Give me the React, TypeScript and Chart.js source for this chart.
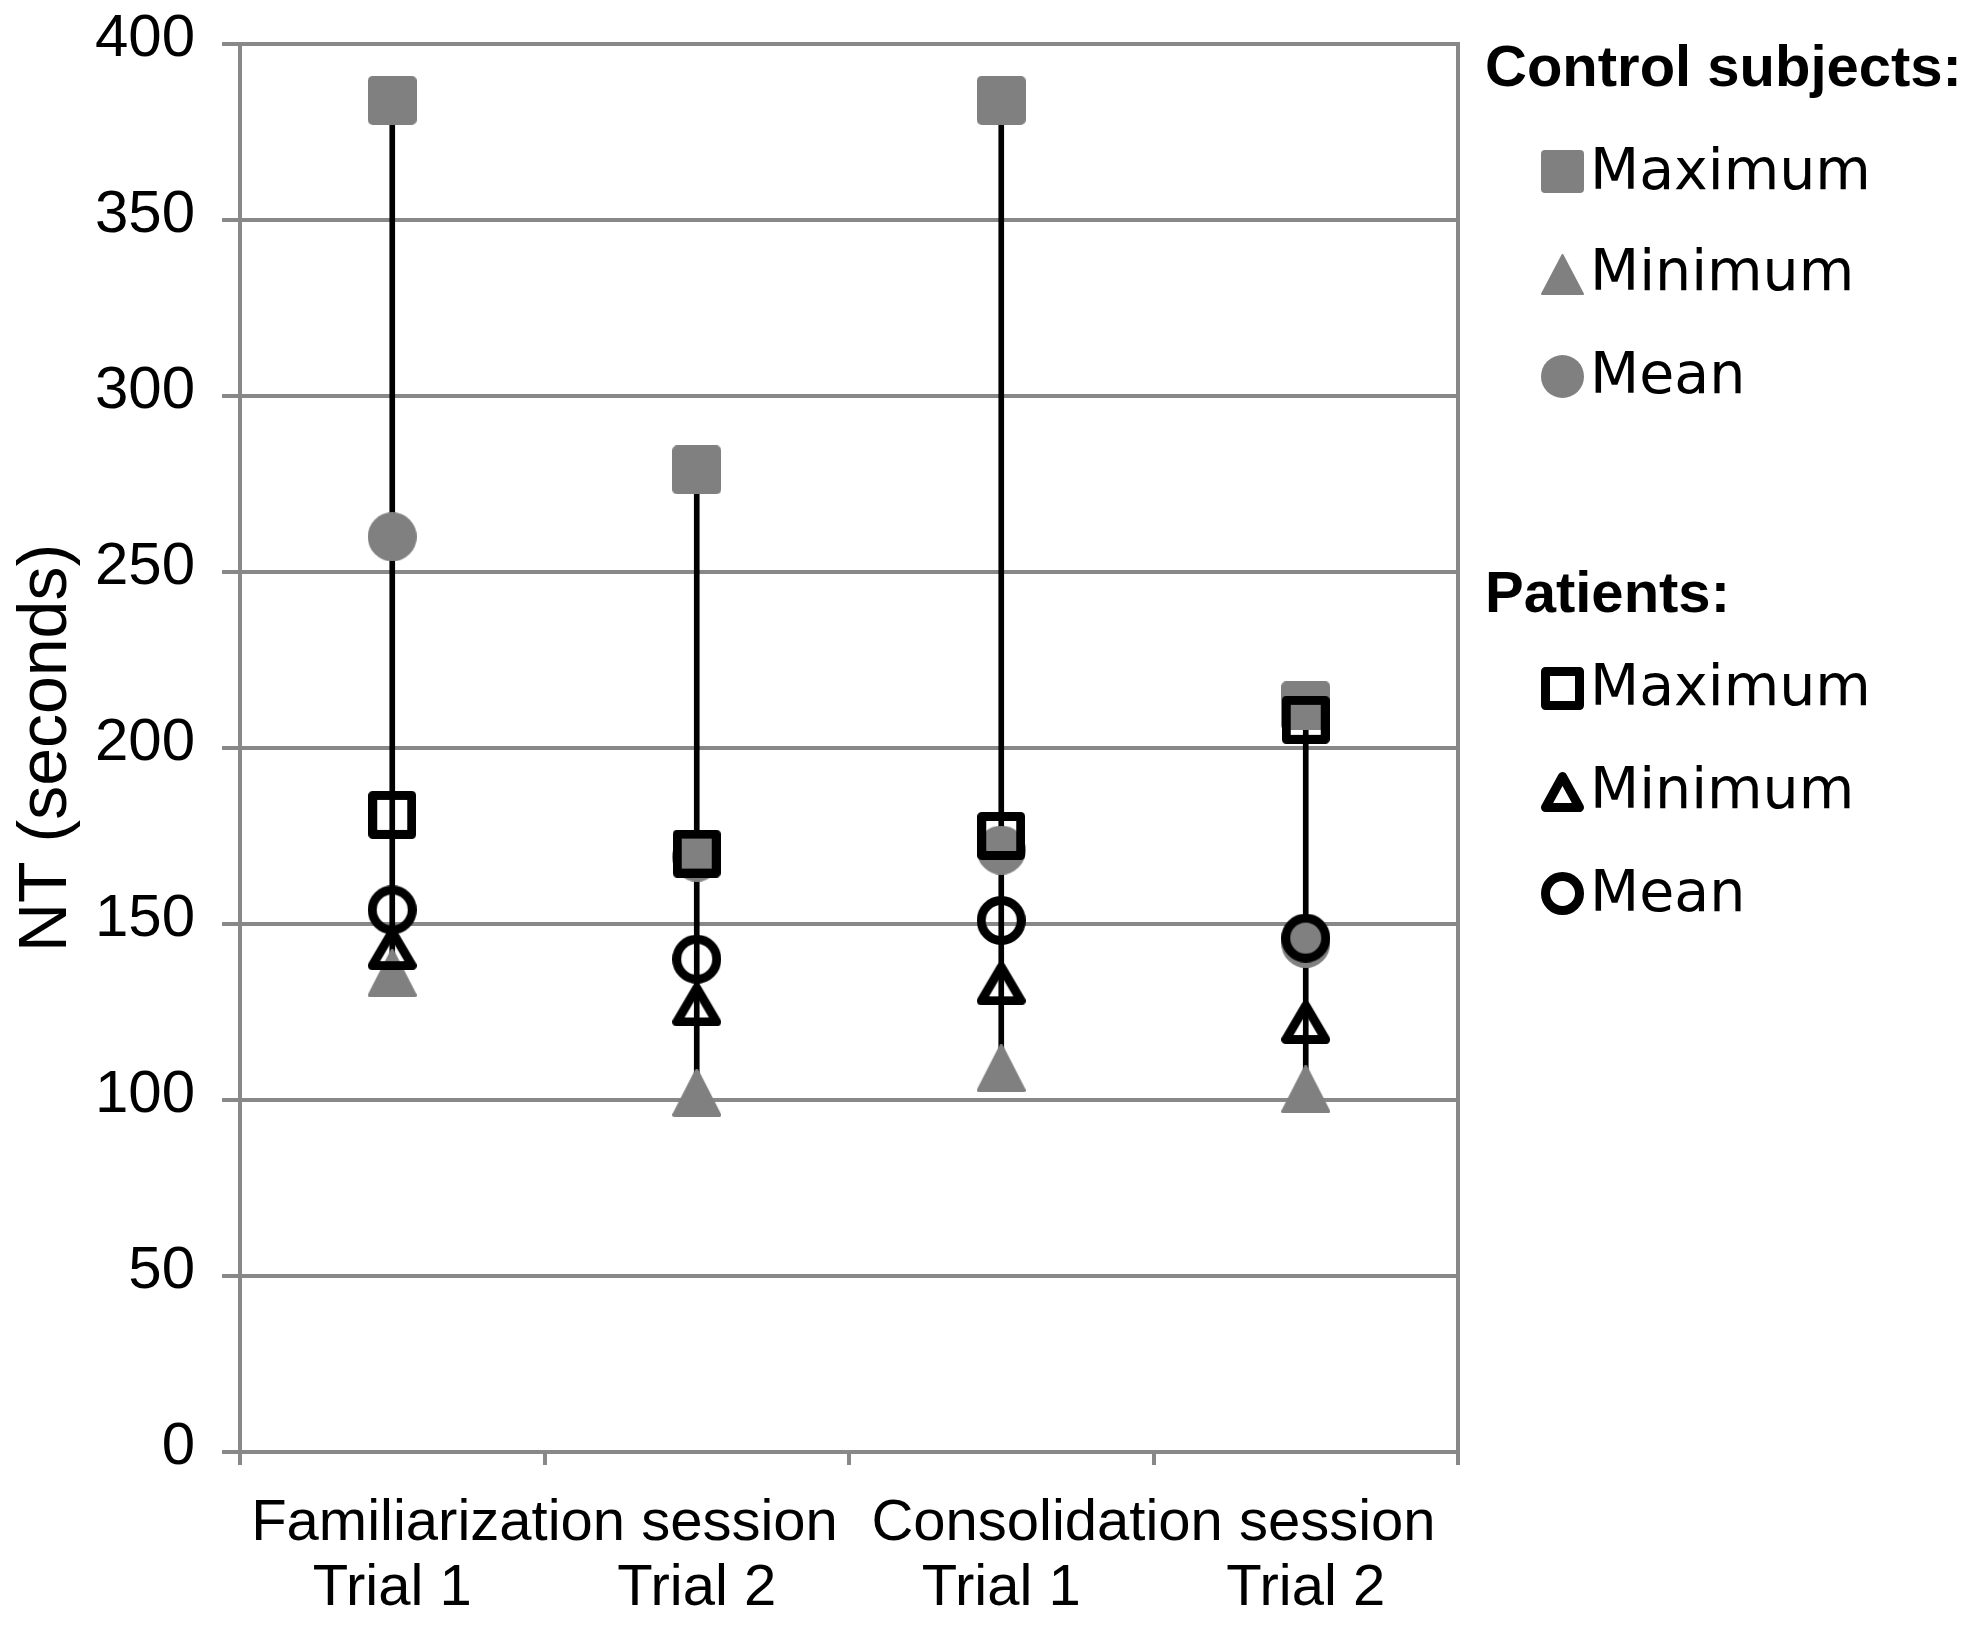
import React, { useEffect, useRef } from 'react';
import { Chart, registerables } from 'chart.js';

Chart.register(...registerables);

// ---- data ----
const categories = ['Familiarization T1', 'Familiarization T2', 'Consolidation T1', 'Consolidation T2'];
const sessionLabels = ['Familiarization session', 'Consolidation session'];
const trialLabels = ['Trial 1', 'Trial 2', 'Trial 1', 'Trial 2'];

const controlMax = [384, 279, 384, 212];
const controlMin = [136, 102, 109, 103];
const controlMean = [260, 169, 171, 144.5];

const patientMax = [181, 170, 175, 208];
const patientMin = [143, 127, 133, 122];
const patientMean = [154, 140, 151, 146];

const yMin = 0;
const yMax = 400;
const yStep = 50;

const legendGroups = ['Control subjects:', 'Patients:'];
const legendItems = ['Maximum', 'Minimum', 'Mean'];

const GRAY = '#808080';
const AXIS = '#888888';

type Shape = 'square' | 'triangle' | 'circle';

function makeMarker(shape: Shape, filled: boolean): HTMLCanvasElement {
  const c = document.createElement('canvas');
  const w = filled ? 49 : shape === 'square' ? 48 : 49;
  const h = filled ? (shape === 'triangle' ? 48 : 49) : shape === 'triangle' ? 43 : shape === 'square' ? 48 : 49;
  c.width = w;
  c.height = h;
  const ctx = c.getContext('2d')!;
  ctx.lineJoin = 'round';
  if (filled) {
    ctx.fillStyle = GRAY;
    ctx.strokeStyle = GRAY;
    if (shape === 'square') {
      ctx.beginPath();
      (ctx as any).roundRect(0, 0, w, h, 5);
      ctx.fill();
    } else if (shape === 'circle') {
      ctx.beginPath();
      ctx.arc(w / 2, h / 2, w / 2, 0, Math.PI * 2);
      ctx.fill();
    } else {
      ctx.lineWidth = 4;
      ctx.beginPath();
      ctx.moveTo(w / 2, 2);
      ctx.lineTo(w - 2, h - 2);
      ctx.lineTo(2, h - 2);
      ctx.closePath();
      ctx.fill();
      ctx.stroke();
    }
  } else {
    ctx.strokeStyle = '#000';
    ctx.lineWidth = 9;
    const s = 4.5;
    ctx.beginPath();
    if (shape === 'square') {
      ctx.rect(s, s, w - 2 * s, h - 2 * s);
    } else if (shape === 'circle') {
      ctx.arc(w / 2, h / 2, w / 2 - s, 0, Math.PI * 2);
    } else {
      ctx.moveTo(w / 2, s);
      ctx.lineTo(w - s, h - s);
      ctx.lineTo(s, h - s);
      ctx.closePath();
    }
    ctx.stroke();
  }
  return c;
}

function LegendMarker({ shape, filled }: { shape: Shape; filled: boolean }) {
  const size = 43;
  const sw = 9;
  const fill = filled ? GRAY : 'none';
  const stroke = filled ? 'none' : '#000';
  const i = filled ? 0 : sw / 2;
  let el: React.ReactNode;
  if (shape === 'square') {
    el = <rect x={i} y={i} width={size - 2 * i} height={size - 2 * i} rx={filled ? 4 : 0} fill={fill} stroke={stroke} strokeWidth={sw} strokeLinejoin="round" />;
  } else if (shape === 'circle') {
    el = <circle cx={size / 2} cy={size / 2} r={size / 2 - i} fill={fill} stroke={stroke} strokeWidth={sw} />;
  } else {
    const h = filled ? 41 : 40;
    const j = filled ? 1 : i;
    el = (
      <polygon
        points={`${size / 2},${j} ${size - j},${h - j} ${j},${h - j}`}
        fill={fill}
        stroke={filled ? GRAY : '#000'}
        strokeWidth={filled ? 2 : sw}
        strokeLinejoin="round"
      />
    );
  }
  return (
    <svg width={size} height={size} style={{ position: 'absolute', left: 0, top: 0, overflow: 'visible' }}>
      {el}
    </svg>
  );
}

export default function App() {
  const ref = useRef<HTMLCanvasElement>(null);

  useEffect(() => {
    const canvas = ref.current!;
    const mk = {
      cMax: makeMarker('square', true),
      cMin: makeMarker('triangle', true),
      cMean: makeMarker('circle', true),
      pMax: makeMarker('square', false),
      pMin: makeMarker('triangle', false),
      pMean: makeMarker('circle', false),
    };
    const pointDs = (label: string, data: number[], style: HTMLCanvasElement, order: number) => ({
      type: 'line' as const,
      label,
      data,
      showLine: false,
      pointStyle: style,
      pointRadius: 24,
      pointHoverRadius: 24,
      order,
      xAxisID: 'x',
      yAxisID: 'y',
    });
    const tickFont = { family: '"Liberation Sans", Arial, sans-serif', size: 58, lineHeight: 1 };

    const chart = new Chart(canvas, {
      type: 'line',
      data: {
        labels: categories,
        datasets: [
          {
            type: 'bar',
            label: 'Control range',
            data: controlMax.map((v, i) => [controlMin[i], v]),
            backgroundColor: '#000',
            borderWidth: 0,
            barThickness: 5,
            order: 3,
            xAxisID: 'x',
            yAxisID: 'y',
          } as any,
          pointDs('Control Maximum', controlMax, mk.cMax, 2),
          pointDs('Control Mean', controlMean, mk.cMean, 2),
          pointDs('Control Minimum', controlMin, mk.cMin, 2),
          pointDs('Patients Maximum', patientMax, mk.pMax, 1),
          pointDs('Patients Mean', patientMean, mk.pMean, 1),
          pointDs('Patients Minimum', patientMin, mk.pMin, 1),
        ],
      },
      options: {
        animation: false,
        responsive: false,
        devicePixelRatio: 1,
        events: [],
        layout: { padding: { top: 44, left: 0, right: 0, bottom: 8 } },
        plugins: { legend: { display: false }, tooltip: { enabled: false } },
        scales: {
          x: {
            type: 'category',
            position: 'bottom',
            offset: true,
            weight: 0,
            grid: {
              display: true,
              drawOnChartArea: false,
              drawTicks: true,
              tickLength: 13,
              color: AXIS,
              lineWidth: 4,
              offset: true,
            },
            border: { display: true, color: AXIS, width: 4 },
            ticks: { display: false },
            afterFit: (s: any) => {
              s.height = 13;
            },
          },
          x2: {
            type: 'category',
            labels: sessionLabels,
            position: 'bottom',
            offset: true,
            weight: 1,
            grid: { display: false, drawTicks: false },
            border: { display: false },
            ticks: { color: '#000', font: tickFont, padding: 30, autoSkip: false, maxRotation: 0, minRotation: 0 },
            afterFit: (s: any) => {
              s.height = 88;
            },
          },
          x3: {
            type: 'category',
            labels: trialLabels,
            position: 'bottom',
            offset: true,
            weight: 2,
            grid: { display: false, drawTicks: false },
            border: { display: false },
            ticks: { color: '#000', font: tickFont, padding: 7, autoSkip: false, maxRotation: 0, minRotation: 0 },
            afterFit: (s: any) => {
              s.height = 65;
            },
          },
          y: {
            type: 'linear',
            position: 'left',
            min: yMin,
            max: yMax,
            grid: { color: AXIS, lineWidth: 4, tickLength: 18, drawTicks: true },
            border: { display: true, color: AXIS, width: 4 },
            ticks: {
              stepSize: yStep,
              color: '#000',
              padding: 27,
              labelOffset: -5,
              font: { family: '"Liberation Sans Narrow", "Liberation Sans", Arial, sans-serif', size: 60 },
            },
            title: {
              display: true,
              text: 'NT (seconds)',
              color: '#000',
              font: { family: '"Liberation Sans", Arial, sans-serif', size: 68 },
              padding: { top: 6, bottom: 0 },
            },
            afterFit: (s: any) => {
              s.width = 240;
              s.paddingTop = 0;
              s.paddingBottom = 0;
            },
          },
          y2: {
            type: 'linear',
            position: 'right',
            grid: { display: false, drawTicks: false },
            ticks: { display: false },
            border: { display: true, color: AXIS, width: 4 },
            afterFit: (s: any) => {
              s.width = 514;
              s.paddingTop = 0;
              s.paddingBottom = 0;
            },
          },
        },
      } as any,
    });
    return () => chart.destroy();
  }, []);

  const headerStyle: React.CSSProperties = {
    position: 'absolute',
    left: 1485,
    fontFamily: '"Liberation Sans", Arial, sans-serif',
    fontWeight: 'bold',
    fontSize: 58,
    lineHeight: '58px',
    whiteSpace: 'nowrap',
    color: '#000',
  };
  const itemStyle: React.CSSProperties = {
    position: 'absolute',
    left: 1590,
    fontFamily: '"DejaVu Sans", sans-serif',
    fontSize: 57,
    lineHeight: '57px',
    whiteSpace: 'nowrap',
    color: '#000',
  };
  const shapes: Shape[] = ['square', 'triangle', 'circle'];
  const groupTop = [37, 563];
  const itemTops = [
    [141, 242, 345],
    [657, 760, 863],
  ];
  const markerTops = [
    [150, 254, 355],
    [667, 772, 872],
  ];

  return (
    <div style={{ position: 'absolute', left: 0, top: 0, width: 1972, height: 1626, background: '#fff', overflow: 'hidden' }}>
      <canvas ref={ref} width={1972} height={1626} style={{ position: 'absolute', left: 0, top: 0, width: 1972, height: 1626 }} />
      {legendGroups.map((g, gi) => (
        <React.Fragment key={g}>
          <div style={{ ...headerStyle, top: groupTop[gi] }}>{g}</div>
          {legendItems.map((it, ii) => (
            <React.Fragment key={it}>
              <div style={{ position: 'absolute', left: 1541, top: markerTops[gi][ii], width: 43, height: 43 }}>
                <LegendMarker shape={shapes[ii]} filled={gi === 0} />
              </div>
              <div style={{ ...itemStyle, top: itemTops[gi][ii] }}>{it}</div>
            </React.Fragment>
          ))}
        </React.Fragment>
      ))}
    </div>
  );
}
